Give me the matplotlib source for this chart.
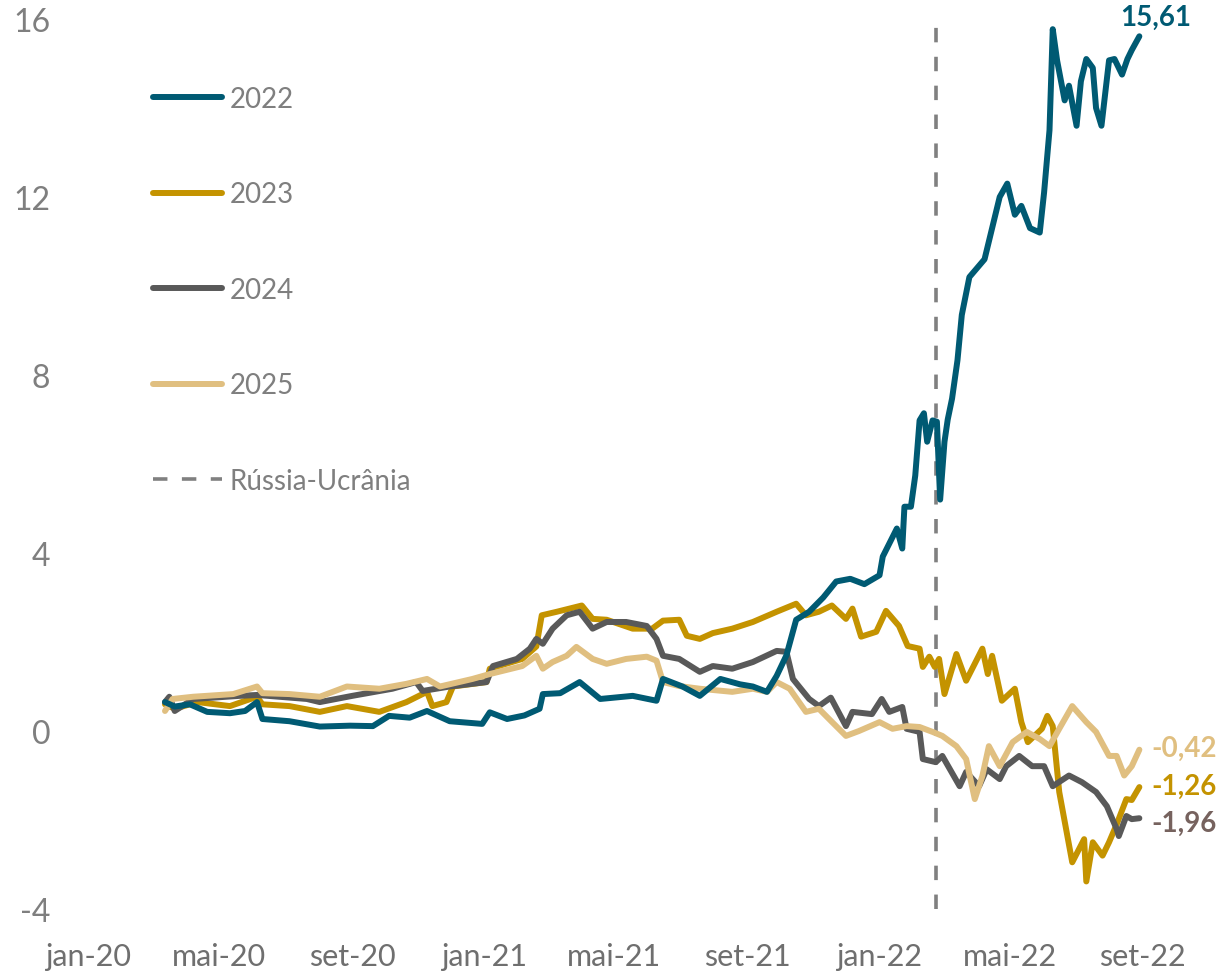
import pandas as pd
import matplotlib
matplotlib.use("Agg")
import matplotlib.pyplot as plt
from matplotlib.lines import Line2D

plt.rcParams['font.family'] = ['Lato', 'DejaVu Sans']

# --- data ---
dates_2022 = ['2020-03-12', '2020-03-21', '2020-04-04', '2020-04-20', '2020-05-11', '2020-05-25',
              '2020-06-05', '2020-06-10', '2020-07-05', '2020-08-02', '2020-08-30', '2020-09-20',
              '2020-10-05', '2020-10-24', '2020-11-09', '2020-11-30', '2020-12-30', '2021-01-06',
              '2021-01-22', '2021-02-07', '2021-02-21', '2021-02-24', '2021-03-12', '2021-03-30',
              '2021-04-18', '2021-05-18', '2021-06-09', '2021-06-15', '2021-07-03', '2021-07-19',
              '2021-08-07', '2021-08-25', '2021-09-06', '2021-09-19', '2021-09-28', '2021-10-07',
              '2021-10-16', '2021-10-28', '2021-11-10', '2021-11-22', '2021-12-05', '2021-12-18',
              '2022-01-01', '2022-01-04', '2022-01-17', '2022-01-22', '2022-01-24', '2022-01-30',
              '2022-02-03', '2022-02-07', '2022-02-11', '2022-02-14', '2022-02-19', '2022-02-23',
              '2022-02-26', '2022-03-02', '2022-03-05', '2022-03-09', '2022-03-14', '2022-03-18',
              '2022-03-25', '2022-04-01', '2022-04-08', '2022-04-14', '2022-04-22', '2022-04-29',
              '2022-05-06', '2022-05-12', '2022-05-20', '2022-05-29', '2022-06-02', '2022-06-07',
              '2022-06-10', '2022-06-14', '2022-06-21', '2022-06-25', '2022-07-02', '2022-07-06',
              '2022-07-11', '2022-07-17', '2022-07-20', '2022-07-25', '2022-08-01', '2022-08-06',
              '2022-08-13', '2022-08-18', '2022-08-22', '2022-08-29']
vals_2022 = [0.65, 0.55, 0.60, 0.43, 0.40, 0.45,
             0.65, 0.27, 0.22, 0.10, 0.12, 0.11,
             0.34, 0.30, 0.45, 0.22, 0.16, 0.42,
             0.27, 0.35, 0.50, 0.83, 0.85, 1.10,
             0.72, 0.79, 0.68, 1.17, 1.00, 0.79,
             1.17, 1.05, 1.00, 0.88, 1.24, 1.70,
             2.50, 2.68, 3.00, 3.36, 3.42, 3.30,
             3.50, 3.92, 4.55, 4.10, 5.04, 5.04,
             5.74, 6.98, 7.14, 6.50, 6.98, 6.95,
             5.20, 6.50, 7.00, 7.47, 8.33, 9.35,
             10.20, 10.40, 10.60, 11.20, 12.00, 12.30,
             11.60, 11.80, 11.30, 11.20, 12.10, 13.50,
             15.77, 15.07, 14.17, 14.50, 13.60, 14.60,
             15.10, 14.90, 14.00, 13.60, 15.07, 15.10,
             14.75, 15.10, 15.30, 15.61]

dates_2023 = ['2020-03-12', '2020-03-21', '2020-04-11', '2020-05-11', '2020-06-05', '2020-06-10',
              '2020-07-05', '2020-08-02', '2020-08-27', '2020-09-26', '2020-10-21', '2020-11-09',
              '2020-11-14', '2020-11-27', '2020-12-03', '2021-01-03', '2021-01-06', '2021-02-05',
              '2021-02-18', '2021-02-23', '2021-03-09', '2021-04-01', '2021-04-11', '2021-04-24',
              '2021-05-18', '2021-06-05', '2021-06-15', '2021-06-30', '2021-07-07', '2021-07-19',
              '2021-07-31', '2021-08-18', '2021-09-06', '2021-09-28', '2021-10-16', '2021-10-25',
              '2021-11-06', '2021-11-18', '2021-12-01', '2021-12-07', '2021-12-15', '2021-12-29',
              '2022-01-07', '2022-01-19', '2022-01-27', '2022-02-07', '2022-02-10', '2022-02-16',
              '2022-02-21', '2022-02-25', '2022-03-02', '2022-03-13', '2022-03-22', '2022-04-06',
              '2022-04-11', '2022-04-15', '2022-04-24', '2022-05-06', '2022-05-12', '2022-05-18',
              '2022-05-31', '2022-06-05', '2022-06-10', '2022-06-16', '2022-06-28', '2022-07-09',
              '2022-07-11', '2022-07-17', '2022-07-26', '2022-08-01', '2022-08-08', '2022-08-17',
              '2022-08-22', '2022-08-29']
vals_2023 = [0.60, 0.50, 0.65, 0.56, 0.77, 0.60,
             0.56, 0.43, 0.56, 0.43, 0.65, 0.88,
             0.56, 0.65, 1.00, 1.10, 1.40, 1.62,
             1.90, 2.60, 2.68, 2.82, 2.52, 2.50,
             2.30, 2.30, 2.48, 2.50, 2.14, 2.07,
             2.20, 2.30, 2.45, 2.68, 2.86, 2.60,
             2.68, 2.82, 2.52, 2.75, 2.12, 2.23,
             2.70, 2.36, 1.91, 1.85, 1.44, 1.67,
             1.44, 1.62, 0.83, 1.73, 1.13, 1.85,
             1.28, 1.69, 0.68, 0.95, 0.20, -0.25,
             0.05, 0.34, 0.11, -1.37, -2.95, -2.43,
             -3.38, -2.50, -2.80, -2.50, -2.10, -1.53,
             -1.55, -1.26]

dates_2024 = ['2020-03-12', '2020-03-16', '2020-03-21', '2020-04-07', '2020-05-20', '2020-06-05',
              '2020-07-21', '2020-08-02', '2020-09-01', '2020-10-08', '2020-10-30', '2020-11-05',
              '2020-11-30', '2021-01-03', '2021-01-09', '2021-01-31', '2021-02-12', '2021-02-18',
              '2021-02-24', '2021-03-05', '2021-03-18', '2021-03-30', '2021-04-11', '2021-04-24',
              '2021-05-12', '2021-05-31', '2021-06-09', '2021-06-15', '2021-06-30', '2021-07-19',
              '2021-07-31', '2021-08-18', '2021-09-06', '2021-09-28', '2021-10-07', '2021-10-13',
              '2021-10-28', '2021-11-06', '2021-11-17', '2021-12-01', '2021-12-07', '2021-12-25',
              '2022-01-03', '2022-01-10', '2022-01-22', '2022-01-26', '2022-02-07', '2022-02-10',
              '2022-02-22', '2022-02-28', '2022-03-08', '2022-03-16', '2022-03-22', '2022-04-03',
              '2022-04-10', '2022-04-22', '2022-04-28', '2022-05-10', '2022-05-22', '2022-06-02',
              '2022-06-10', '2022-06-25', '2022-07-07', '2022-07-20', '2022-07-30', '2022-08-08',
              '2022-08-10', '2022-08-17', '2022-08-22', '2022-08-29']
vals_2024 = [0.65, 0.77, 0.45, 0.72, 0.79, 0.81,
             0.72, 0.65, 0.79, 0.95, 1.10, 0.90,
             1.00, 1.10, 1.46, 1.62, 1.85, 2.07,
             1.96, 2.30, 2.60, 2.68, 2.30, 2.45,
             2.45, 2.36, 2.07, 1.69, 1.62, 1.33,
             1.46, 1.40, 1.55, 1.80, 1.78, 1.17,
             0.72, 0.56, 0.75, 0.11, 0.43, 0.38,
             0.72, 0.43, 0.54, 0.05, -0.02, -0.63,
             -0.70, -0.56, -0.90, -1.24, -0.92, -1.24,
             -0.86, -1.08, -0.79, -0.56, -0.79, -0.79,
             -1.24, -1.00, -1.15, -1.37, -1.69, -2.20,
             -2.36, -1.91, -1.98, -1.96]

dates_2025 = ['2020-03-12', '2020-03-19', '2020-04-07', '2020-05-14', '2020-06-05', '2020-06-10',
              '2020-07-05', '2020-08-02', '2020-08-27', '2020-09-26', '2020-10-21', '2020-11-09',
              '2020-11-21', '2020-12-21', '2021-01-06', '2021-02-05', '2021-02-18', '2021-02-24',
              '2021-03-05', '2021-03-18', '2021-03-27', '2021-04-11', '2021-04-24', '2021-05-12',
              '2021-05-31', '2021-06-09', '2021-06-15', '2021-06-30', '2021-07-19', '2021-08-18',
              '2021-09-06', '2021-09-19', '2021-09-28', '2021-10-10', '2021-10-25', '2021-11-06',
              '2021-11-17', '2021-12-01', '2021-12-13', '2022-01-01', '2022-01-13', '2022-01-26',
              '2022-02-07', '2022-02-19', '2022-02-28', '2022-03-13', '2022-03-22', '2022-03-30',
              '2022-04-06', '2022-04-12', '2022-04-22', '2022-05-04', '2022-05-17', '2022-05-29',
              '2022-06-07', '2022-06-16', '2022-06-28', '2022-07-11', '2022-07-20', '2022-08-01',
              '2022-08-08', '2022-08-15', '2022-08-22', '2022-08-29']
vals_2025 = [0.45, 0.72, 0.77, 0.83, 1.00, 0.85,
             0.83, 0.77, 1.00, 0.95, 1.06, 1.17,
             1.00, 1.17, 1.28, 1.46, 1.69, 1.40,
             1.55, 1.69, 1.89, 1.62, 1.51, 1.62,
             1.67, 1.58, 1.10, 1.01, 0.95, 0.88,
             0.95, 0.88, 1.10, 0.95, 0.43, 0.50,
             0.23, -0.11, 0.00, 0.20, 0.05, 0.11,
             0.09, -0.02, -0.11, -0.34, -0.63, -1.53,
             -1.01, -0.34, -0.79, -0.25, -0.02, -0.18,
             -0.34, 0.05, 0.56, 0.20, -0.02, -0.56,
             -0.56, -1.00, -0.79, -0.42]

series_names = ['2022', '2023', '2024', '2025']
war_date = '2022-02-22'
war_label = 'Rússia-Ucrânia'
tick_dates = ['2020-01-01', '2020-05-01', '2020-09-01', '2021-01-01', '2021-05-01',
              '2021-09-01', '2022-01-01', '2022-05-01', '2022-09-01']
tick_labels = ['jan-20', 'mai-20', 'set-20', 'jan-21', 'mai-21',
               'set-21', 'jan-22', 'mai-22', 'set-22']
y_ticks = [-4, 0, 4, 8, 12, 16]

c22 = '#005A73'
c23 = '#C49300'
c24 = '#595959'
c25 = '#E0BF80'
lbl_colors = {'2022': '#005A73', '2023': '#C49300', '2024': '#76625E', '2025': '#E0BF80'}

fig = plt.figure(figsize=(12.19, 9.78), dpi=100)
ax = fig.add_axes([0.0492, 0.0695, 0.9352, 0.9101])

lw = 4.3
data = {
    '2022': (dates_2022, vals_2022, c22, 4),
    '2023': (dates_2023, vals_2023, c23, 1),
    '2024': (dates_2024, vals_2024, c24, 2),
    '2025': (dates_2025, vals_2025, c25, 3),
}
for name in series_names:
    d, v, c, z = data[name]
    ax.plot(pd.to_datetime(d), v, color=c, lw=lw, zorder=z,
            solid_joinstyle='round', solid_capstyle='round')

ax.axvline(pd.Timestamp(war_date), color='#808080', lw=2.6, ls=(0, (4, 4)), zorder=0)

# end-of-series labels
for name in series_names:
    d, v, c, z = data[name]
    txt = f'{v[-1]:.2f}'.replace('.', ',')
    if name == '2022':
        ax.annotate(txt, (pd.Timestamp(d[-1]), v[-1]), xytext=(12, 14),
                    textcoords='offset points', ha='center', va='center',
                    fontsize=20, fontweight='bold', color=lbl_colors[name])
    else:
        dy = -3 if name == '2024' else 1
        ax.annotate(txt, (pd.Timestamp(d[-1]), v[-1]), xytext=(9, dy),
                    textcoords='offset points', ha='left', va='center',
                    fontsize=20, fontweight='bold', color=lbl_colors[name])

ax.set_ylim(-4, 16)
ax.set_xlim(pd.Timestamp('2019-12-06'), pd.Timestamp('2022-10-24'))
ax.set_yticks(y_ticks)
ax.set_yticklabels([str(t) for t in y_ticks])
ax.set_xticks(pd.to_datetime(tick_dates))
ax.set_xticklabels(tick_labels)
ax.tick_params(axis='y', length=0, pad=7, labelsize=23, labelcolor='#7F7F7F')
ax.tick_params(axis='x', length=0, pad=24, labelsize=22, labelcolor='#6F6F6F')
for s in ax.spines.values():
    s.set_visible(False)

handles = [Line2D([], [], color=c22, lw=lw, solid_capstyle='round'),
           Line2D([], [], color=c23, lw=lw, solid_capstyle='round'),
           Line2D([], [], color=c24, lw=lw, solid_capstyle='round'),
           Line2D([], [], color=c25, lw=lw, solid_capstyle='round'),
           Line2D([], [], color='#808080', lw=2.6, ls=(0, (4, 4)))]
leg = ax.legend(handles, series_names + [war_label], loc='upper left',
                bbox_to_anchor=(0.1255, 0.911), bbox_transform=fig.transFigure,
                frameon=False, fontsize=20, labelspacing=2.5, handlelength=2.5,
                handletextpad=0.25, borderpad=0, borderaxespad=0)
for t in leg.get_texts():
    t.set_color('#7F7F7F')

fig.savefig('out.png', dpi=100, facecolor='white')
